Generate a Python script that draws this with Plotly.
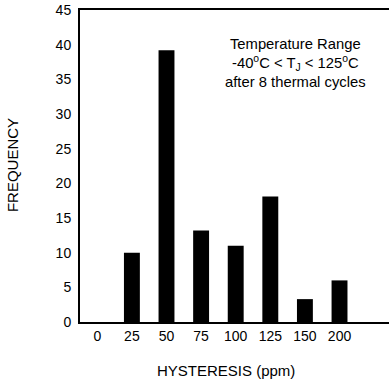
import plotly.graph_objects as go

# histogram bins (ppm) and counts
hysteresis = ["0", "25", "50", "75", "100", "125", "150", "200"]
frequency = [0, 10, 39.2, 13.2, 11, 18.1, 3.3, 6]
y_ticks = list(range(0, 50, 5))

FONT = "Liberation Sans, Arial, sans-serif"

fig = go.Figure()
fig.add_trace(go.Bar(
    x=list(range(len(hysteresis))),
    y=frequency,
    width=0.46,
    marker=dict(color="black", line=dict(width=0)),
))

# note in upper right
fig.add_annotation(
    x=5.72, y=37.3, xref="x", yref="y",
    text="Temperature Range<br>-40<sup>o</sup>C < T<sub>J</sub> < 125<sup>o</sup>C<br>after 8 thermal cycles",
    showarrow=False, align="center",
    font=dict(family=FONT, size=14.8, color="black"),
)

# axis titles as annotations for exact placement
fig.add_annotation(
    x=0.472, y=-0.154, xref="paper", yref="paper",
    text="HYSTERESIS (ppm)", showarrow=False,
    xanchor="center", yanchor="middle",
    font=dict(family=FONT, size=15, color="black"),
)
fig.add_annotation(
    x=-0.22, y=0.503, xref="paper", yref="paper",
    text="FREQUENCY", showarrow=False, textangle=-90,
    xanchor="center", yanchor="middle",
    font=dict(family=FONT, size=15, color="black"),
)

fig.update_layout(
    width=389, height=385,
    margin=dict(l=80, r=0, t=10, b=63),
    plot_bgcolor="white", paper_bgcolor="white",
    showlegend=False,
    font=dict(family=FONT, size=14, color="black"),
    xaxis=dict(
        range=[-0.5, 8.43],
        tickmode="array",
        tickvals=list(range(len(hysteresis))),
        ticktext=hysteresis,
        showgrid=False, zeroline=False,
        showline=True, linecolor="black", linewidth=2, mirror=True,
        ticks="",
        automargin=False,
    ),
    yaxis=dict(
        range=[0, 45],
        tickvals=y_ticks,
        showgrid=False, zeroline=False,
        showline=True, linecolor="black", linewidth=2,
        ticks="outside", ticklen=4, tickcolor="rgba(0,0,0,0)",
        automargin=False,
    ),
)

# drop the default 8px page margin so the figure sits at the window corner
fig.write_html(
    "out.html",
    config={"displayModeBar": False},
    post_script="document.body.style.margin='0';",
)
